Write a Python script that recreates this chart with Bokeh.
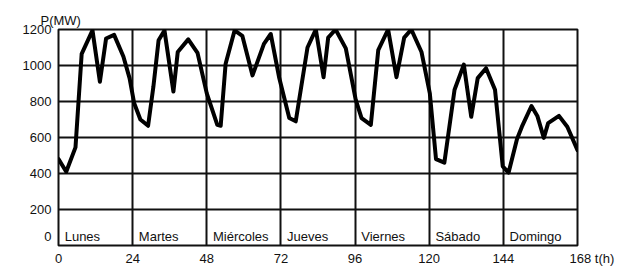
from bokeh.plotting import figure
from bokeh.models import FixedTicker, ColumnDataSource
from bokeh.core.properties import value
from bokeh.embed import file_html
from bokeh.resources import INLINE

# Hourly load curve of one week (hours, MW)
hours = [0, 2.5, 5.5, 7.5, 11, 13.4, 15.4, 18, 21, 23,
         24.5, 26.5, 29, 30.7, 32.4, 34.3, 37.2, 38.6, 42, 45, 48,
         51.4, 52.5, 54.1, 57, 59.5, 62.8, 66.5, 68.7, 71.4,
         74.7, 76.8, 80.6, 83.3, 85.8, 87.3, 89.7, 93, 96.2,
         98.1, 101.1, 103.5, 106.7, 109.4, 111.9, 114.2, 117.5, 120.2,
         122.2, 124.9, 128.2, 131.2, 133.6, 135.7, 138.4, 141.3, 143.8,
         145.7, 148.4, 150, 153.1, 155, 157.1, 158.5, 162, 164.7, 168]
power = [480, 410, 545, 1065, 1195, 910, 1150, 1170, 1050, 930,
         790, 700, 665, 880, 1140, 1195, 855, 1075, 1145, 1070, 845,
         670, 665, 1010, 1195, 1165, 945, 1120, 1175, 935,
         708, 690, 1100, 1200, 935, 1155, 1200, 1095, 810,
         708, 670, 1085, 1200, 935, 1155, 1200, 1075, 845,
         480, 460, 865, 1005, 715, 930, 985, 865, 440,
         405, 590, 660, 775, 720, 598, 680, 720, 660, 530]

days = ["Lunes", "Martes", "Miércoles", "Jueves", "Viernes", "Sábado", "Domingo"]
day_start = [0, 24, 48, 72, 96, 120, 144]
x_ticks = [0, 24, 48, 72, 96, 120, 144, 168]
y_ticks = [0, 200, 400, 600, 800, 1000, 1200]

FONT = "Liberation Sans"
INK = "#111111"

p = figure(width=625, height=268, x_range=(0, 168), y_range=(0, 1200),
           output_backend="svg", toolbar_location=None,
           min_border_left=58, min_border_right=48,
           min_border_top=29, min_border_bottom=21)

p.title.text = "P(MW)"
p.title.align = "left"
p.title.offset = -18
p.title.standoff = 4
p.title.text_font = FONT
p.title.text_font_size = "13px"
p.title.text_font_style = "normal"
p.title.text_color = INK

p.outline_line_color = INK
p.outline_line_width = 2

for ax in (p.xaxis, p.yaxis):
    ax.axis_line_color = None
    ax.major_tick_line_color = None
    ax.minor_tick_line_color = None
    ax.major_tick_out = 0
    ax.major_tick_in = 0
    ax.minor_tick_out = 0
    ax.minor_tick_in = 0
    ax.major_label_text_font = FONT
    ax.major_label_text_font_size = "13px"
    ax.major_label_text_color = INK

p.xaxis.ticker = FixedTicker(ticks=x_ticks)
p.yaxis.ticker = FixedTicker(ticks=y_ticks)
p.xaxis.major_label_standoff = 5
p.yaxis.major_label_standoff = 7
p.yaxis.major_label_overrides = {0: "0\n"}
p.xaxis.major_label_overrides = {168: "\u00a0" * 8 + "168 t(h)"}

p.xgrid.ticker = FixedTicker(ticks=x_ticks)
p.ygrid.ticker = FixedTicker(ticks=y_ticks)
for g in (p.xgrid, p.ygrid):
    g.grid_line_color = INK
    g.grid_line_width = 2

src = ColumnDataSource(dict(x=hours, y=power))
p.line("x", "y", source=src, line_color="black", line_width=4,
       line_join="round", line_cap="round")

dsrc = ColumnDataSource(dict(x=[d + 2 for d in day_start], y=[50] * len(days), t=days))
p.text("x", "y", text="t", source=dsrc, text_font=value(FONT),
       text_font_size="13px", text_baseline="middle", text_align="left",
       text_color=INK)

open("out.html", "w").write(file_html(p, INLINE))
